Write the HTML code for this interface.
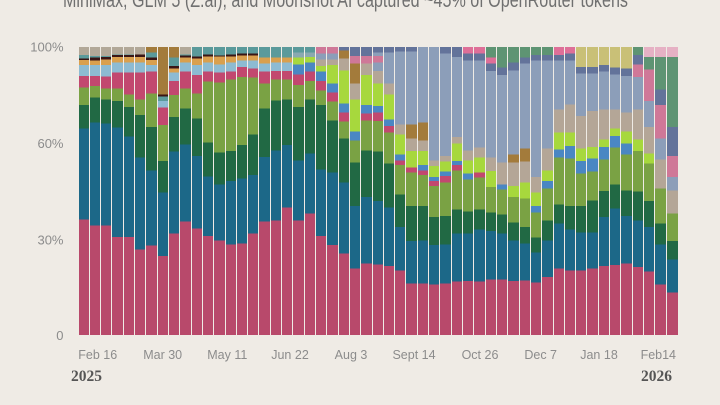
<!DOCTYPE html>
<html><head><meta charset="utf-8">
<style>
html,body{margin:0;padding:0;}
body{width:720px;height:405px;background:#efebe5;position:relative;overflow:hidden;font-family:"Liberation Sans",sans-serif;}
#plot{position:absolute;left:0;top:46.7px;width:720px;height:288px;}
#plot div{position:absolute;top:0;height:288px;}
svg{position:absolute;left:0;top:0;}
</style></head><body>
<div id="plot">
<div style="left:79px;width:10px;background:linear-gradient(#b2a898 8px,#5b9a9b 0 11.3px,#3a1515 0 13px,#d9a04e 0 18px,#8dbbd2 0 29px,#c2486f 0 40.7px,#7aa244 0 58px,#216944 0 81.3px,#1c6888 0 172.3px,#b8496b 0)"></div>
<div style="left:90px;width:10px;background:linear-gradient(#b2a898 9px,#5b9a9b 0 10.7px,#3a1515 0 13.3px,#d9a04e 0 18px,#8dbbd2 0 29px,#c2486f 0 39px,#7aa244 0 50.7px,#216944 0 75.7px,#1c6888 0 178.3px,#b8496b 0)"></div>
<div style="left:101px;width:10px;background:linear-gradient(#b2a898 9px,#5b9a9b 0 10px,#3a1515 0 12.7px,#d9a04e 0 18px,#8dbbd2 0 29.7px,#c2486f 0 41.3px,#7aa244 0 52.3px,#216944 0 76.3px,#1c6888 0 178.3px,#b8496b 0)"></div>
<div style="left:112px;width:11px;background:linear-gradient(#b2a898 7.3px,#5b9a9b 0 8px,#3a1515 0 10px,#d9a04e 0 15.7px,#8dbbd2 0 25.7px,#c2486f 0 41.3px,#7aa244 0 54px,#216944 0 80.7px,#1c6888 0 190px,#b8496b 0)"></div>
<div style="left:124px;width:10px;background:linear-gradient(#b2a898 7.3px,#5b9a9b 0 8px,#3a1515 0 10px,#d9a04e 0 15.7px,#8dbbd2 0 25.7px,#c2486f 0 47.3px,#7aa244 0 60px,#216944 0 89.7px,#1c6888 0 190px,#b8496b 0)"></div>
<div style="left:135px;width:10px;background:linear-gradient(#b2a898 7.3px,#3a1515 0 10px,#d9a04e 0 15.7px,#8dbbd2 0 25.7px,#c2486f 0 52.3px,#7aa244 0 68px,#216944 0 110.7px,#1c6888 0 202.3px,#b8496b 0)"></div>
<div style="left:146px;width:11px;background:linear-gradient(#a37b3b 5.7px,#5b9a9b 0 10.7px,#3a1515 0 13px,#d9a04e 0 18px,#8dbbd2 0 24.7px,#c2486f 0 46.7px,#7aa244 0 80px,#216944 0 123.3px,#1c6888 0 198.3px,#b8496b 0)"></div>
<div style="left:158px;width:10px;background:linear-gradient(#a37b3b 47.3px,#3a1515 0 49.7px,#5b9a9b 0 54px,#8dbbd2 0 60.7px,#c2486f 0 78px,#7aa244 0 114px,#216944 0 145.7px,#1c6888 0 209px,#b8496b 0)"></div>
<div style="left:169px;width:10px;background:linear-gradient(#a37b3b 10.7px,#5b9a9b 0 19px,#3a1515 0 21.3px,#d9a04e 0 25.7px,#8dbbd2 0 34px,#c2486f 0 48px,#7aa244 0 70px,#216944 0 104.7px,#1c6888 0 186.7px,#b8496b 0)"></div>
<div style="left:180px;width:11px;background:linear-gradient(#b2a898 7.3px,#5b9a9b 0 8.3px,#3a1515 0 10.7px,#d9a04e 0 15.7px,#8dbbd2 0 24.7px,#c2486f 0 41.3px,#7aa244 0 61.3px,#216944 0 97.3px,#1c6888 0 174.7px,#b8496b 0)"></div>
<div style="left:192px;width:10px;background:linear-gradient(#5b9a9b 9.3px,#3a1515 0 11.3px,#d9a04e 0 18px,#8dbbd2 0 28px,#c2486f 0 46.7px,#7aa244 0 71.3px,#216944 0 109px,#1c6888 0 181.3px,#b8496b 0)"></div>
<div style="left:203px;width:10px;background:linear-gradient(#5b9a9b 7.3px,#3a1515 0 9.3px,#d9a04e 0 15.7px,#8dbbd2 0 24.7px,#c2486f 0 34.7px,#7aa244 0 95.7px,#216944 0 129.7px,#1c6888 0 189px,#b8496b 0)"></div>
<div style="left:214px;width:11px;background:linear-gradient(#5b9a9b 8.3px,#3a1515 0 9.3px,#d9a04e 0 17.3px,#8dbbd2 0 25.7px,#c2486f 0 35.7px,#7aa244 0 105.7px,#216944 0 137.3px,#1c6888 0 193.3px,#b8496b 0)"></div>
<div style="left:226px;width:10px;background:linear-gradient(#5b9a9b 7.3px,#3a1515 0 9.3px,#d9a04e 0 15.7px,#8dbbd2 0 24.7px,#c2486f 0 32.3px,#7aa244 0 104px,#216944 0 134px,#1c6888 0 197.3px,#b8496b 0)"></div>
<div style="left:237px;width:10px;background:linear-gradient(#5b9a9b 6.7px,#3a1515 0 8.3px,#d9a04e 0 13.3px,#8dbbd2 0 20px,#c2486f 0 30px,#7aa244 0 98px,#216944 0 131.3px,#1c6888 0 196.7px,#b8496b 0)"></div>
<div style="left:248px;width:10px;background:linear-gradient(#5b9a9b 6.7px,#3a1515 0 8.3px,#d9a04e 0 13.3px,#8dbbd2 0 21.3px,#c2486f 0 30.7px,#7aa244 0 87.3px,#216944 0 128px,#1c6888 0 186.7px,#b8496b 0)"></div>
<div style="left:259px;width:11px;background:linear-gradient(#5b9a9b 10.7px,#d9a04e 0 16.7px,#8dbbd2 0 24.7px,#c2486f 0 36.7px,#7aa244 0 61.3px,#216944 0 110px,#1c6888 0 174.7px,#b8496b 0)"></div>
<div style="left:271px;width:10px;background:linear-gradient(#5b9a9b 10.7px,#d9a04e 0 15.7px,#8dbbd2 0 24px,#c2486f 0 32.3px,#7aa244 0 53.3px,#216944 0 103.3px,#1c6888 0 173.3px,#b8496b 0)"></div>
<div style="left:282px;width:10px;background:linear-gradient(#5b9a9b 10.7px,#d9a04e 0 15.7px,#8dbbd2 0 24px,#c2486f 0 32.3px,#7aa244 0 52.3px,#216944 0 98px,#1c6888 0 160.7px,#b8496b 0)"></div>
<div style="left:293px;width:11px;background:linear-gradient(#5b9a9b 5.7px,#8aa9b0 0 10.7px,#a7d83d 0 17.3px,#4a87c3 0 27.3px,#c2486f 0 38px,#7aa244 0 60px,#216944 0 113.3px,#1c6888 0 173.3px,#b8496b 0)"></div>
<div style="left:305px;width:10px;background:linear-gradient(#5b9a9b 5.7px,#8aa9b0 0 10px,#a7d83d 0 15.7px,#4a87c3 0 24.7px,#c2486f 0 34px,#7aa244 0 52.3px,#216944 0 106.7px,#1c6888 0 166.7px,#b8496b 0)"></div>
<div style="left:316px;width:10px;background:linear-gradient(#cf7898 6.7px,#8c9eb9 0 12.3px,#b4a697 0 19px,#a7d83d 0 24.7px,#4a87c3 0 34px,#c2486f 0 43.3px,#7aa244 0 58px,#216944 0 122.3px,#1c6888 0 189px,#b8496b 0)"></div>
<div style="left:327px;width:11px;background:linear-gradient(#cf7898 6.7px,#8c9eb9 0 12.3px,#b4a697 0 18px,#a7d83d 0 36.7px,#4a87c3 0 45.7px,#c2486f 0 54.7px,#7aa244 0 73.3px,#216944 0 125.7px,#1c6888 0 198px,#b8496b 0)"></div>
<div style="left:339px;width:10px;background:linear-gradient(#63739a 3.3px,#a37b3b 0 11.3px,#b4a697 0 23.3px,#a7d83d 0 56.7px,#4a87c3 0 65.7px,#c2486f 0 74.7px,#7aa244 0 91.3px,#216944 0 135.7px,#1c6888 0 206.7px,#b8496b 0)"></div>
<div style="left:350px;width:10px;background:linear-gradient(#63739a 9px,#cf7898 0 16.7px,#a37b3b 0 36.7px,#b4a697 0 52.3px,#a7d83d 0 84.7px,#4a87c3 0 93.3px,#7aa244 0 115.7px,#216944 0 159px,#1c6888 0 221.3px,#b8496b 0)"></div>
<div style="left:361px;width:11px;background:linear-gradient(#63739a 9px,#cf7898 0 16.7px,#b4a697 0 28px,#a7d83d 0 58px,#4a87c3 0 66.7px,#c2486f 0 73.3px,#7aa244 0 103.3px,#216944 0 150px,#1c6888 0 216.3px,#b8496b 0)"></div>
<div style="left:373px;width:10px;background:linear-gradient(#63739a 5.7px,#8c9eb9 0 9px,#cf7898 0 15.7px,#8c9eb9 0 24px,#b4a697 0 36.7px,#a7d83d 0 59px,#4a87c3 0 65.7px,#c2486f 0 74px,#7aa244 0 104.7px,#216944 0 154px,#1c6888 0 217.3px,#b8496b 0)"></div>
<div style="left:384px;width:10px;background:linear-gradient(#63739a 5.7px,#8c9eb9 0 36.7px,#b4a697 0 47.3px,#a7d83d 0 72.3px,#4a87c3 0 79px,#c2486f 0 85.7px,#7aa244 0 116.7px,#216944 0 160.7px,#1c6888 0 219px,#b8496b 0)"></div>
<div style="left:395px;width:10px;background:linear-gradient(#63739a 4.7px,#8c9eb9 0 77.3px,#b4a697 0 87.3px,#a7d83d 0 107.3px,#4a87c3 0 113.3px,#c2486f 0 118px,#7aa244 0 147.3px,#216944 0 180px,#1c6888 0 223.3px,#b8496b 0)"></div>
<div style="left:406px;width:11px;background:linear-gradient(#63739a 4.7px,#8c9eb9 0 77.3px,#a37b3b 0 91.3px,#b4a697 0 104px,#a7d83d 0 120.7px,#c2486f 0 125.7px,#7aa244 0 159px,#216944 0 194px,#1c6888 0 236.7px,#b8496b 0)"></div>
<div style="left:418px;width:10px;background:linear-gradient(#8c9eb9 75.7px,#a37b3b 0 93.3px,#b4a697 0 104px,#a7d83d 0 118px,#4a87c3 0 123.3px,#c2486f 0 128px,#7aa244 0 159px,#216944 0 193.3px,#1c6888 0 236.7px,#b8496b 0)"></div>
<div style="left:429px;width:10px;background:linear-gradient(#8c9eb9 113.3px,#b4a697 0 119px,#a7d83d 0 130px,#4a87c3 0 134px,#c2486f 0 139px,#7aa244 0 170px,#216944 0 198px,#1c6888 0 237.3px,#b8496b 0)"></div>
<div style="left:440px;width:11px;background:linear-gradient(#63739a 6.7px,#8c9eb9 0 109px,#b4a697 0 114.7px,#a7d83d 0 124.7px,#4a87c3 0 129px,#c2486f 0 135.7px,#7aa244 0 169px,#216944 0 197.3px,#1c6888 0 236.7px,#b8496b 0)"></div>
<div style="left:452px;width:10px;background:linear-gradient(#63739a 10px,#8c9eb9 0 90px,#b4a697 0 96.7px,#a7d83d 0 114px,#4a87c3 0 118px,#c2486f 0 123.3px,#7aa244 0 162.3px,#216944 0 186.7px,#1c6888 0 234.7px,#b8496b 0)"></div>
<div style="left:463px;width:10px;background:linear-gradient(#de6f98 6.7px,#63739a 0 13.3px,#8c9eb9 0 103.3px,#b4a697 0 113.3px,#a7d83d 0 126.7px,#4a87c3 0 132.3px,#7aa244 0 164.7px,#216944 0 186.7px,#1c6888 0 234px,#b8496b 0)"></div>
<div style="left:474px;width:11px;background:linear-gradient(#de6f98 6.7px,#63739a 0 13.3px,#8c9eb9 0 100.7px,#b4a697 0 110.7px,#a7d83d 0 125.7px,#c2486f 0 130.7px,#7aa244 0 162.3px,#216944 0 182.3px,#1c6888 0 234.7px,#b8496b 0)"></div>
<div style="left:486px;width:10px;background:linear-gradient(#5e9473 10.7px,#de6f98 0 16.7px,#63739a 0 24px,#8c9eb9 0 110.7px,#b4a697 0 124px,#a7d83d 0 140px,#7aa244 0 165.7px,#216944 0 184px,#1c6888 0 232.3px,#b8496b 0)"></div>
<div style="left:497px;width:10px;background:linear-gradient(#5e9473 20.7px,#63739a 0 28px,#8c9eb9 0 115.7px,#b4a697 0 137.3px,#4a87c3 0 142.3px,#7aa244 0 167.3px,#216944 0 186.7px,#1c6888 0 232.3px,#b8496b 0)"></div>
<div style="left:508px;width:11px;background:linear-gradient(#5e9473 15.7px,#63739a 0 23.3px,#8c9eb9 0 107.3px,#a37b3b 0 115.7px,#b4a697 0 139px,#a7d83d 0 150px,#7aa244 0 175.7px,#216944 0 193.3px,#1c6888 0 234px,#b8496b 0)"></div>
<div style="left:520px;width:10px;background:linear-gradient(#5e9473 10.7px,#63739a 0 16.7px,#8c9eb9 0 101.3px,#a37b3b 0 114.7px,#b4a697 0 135.7px,#a7d83d 0 151.3px,#7aa244 0 180px,#216944 0 196.7px,#1c6888 0 233.3px,#b8496b 0)"></div>
<div style="left:531px;width:10px;background:linear-gradient(#5e9473 8px,#63739a 0 13.3px,#8c9eb9 0 130px,#b4a697 0 145.7px,#a7d83d 0 159px,#4a87c3 0 165.7px,#7aa244 0 190.7px,#216944 0 205.7px,#1c6888 0 235.7px,#b8496b 0)"></div>
<div style="left:542px;width:11px;background:linear-gradient(#5e9473 8px,#63739a 0 13.3px,#8c9eb9 0 101.3px,#b4a697 0 123.3px,#a7d83d 0 134px,#4a87c3 0 141.3px,#7aa244 0 173.3px,#216944 0 193.3px,#1c6888 0 230px,#b8496b 0)"></div>
<div style="left:554px;width:10px;background:linear-gradient(#de6f98 8px,#63739a 0 13.3px,#8c9eb9 0 62.3px,#b4a697 0 85.7px,#a7d83d 0 102.3px,#4a87c3 0 110.7px,#7aa244 0 157.3px,#216944 0 176.7px,#1c6888 0 221.3px,#b8496b 0)"></div>
<div style="left:565px;width:10px;background:linear-gradient(#de6f98 6.7px,#63739a 0 13.3px,#8c9eb9 0 57.3px,#b4a697 0 85.7px,#a7d83d 0 99px,#4a87c3 0 111.3px,#7aa244 0 159px,#216944 0 182.3px,#1c6888 0 223.3px,#b8496b 0)"></div>
<div style="left:576px;width:10px;background:linear-gradient(#c9c077 20px,#63739a 0 26.7px,#8c9eb9 0 69px,#b4a697 0 101.3px,#a7d83d 0 114px,#4a87c3 0 126.7px,#7aa244 0 159px,#216944 0 185.7px,#1c6888 0 223.3px,#b8496b 0)"></div>
<div style="left:587px;width:11px;background:linear-gradient(#c9c077 20px,#63739a 0 26.7px,#8c9eb9 0 64px,#b4a697 0 100px,#a7d83d 0 111.3px,#4a87c3 0 124.7px,#7aa244 0 153.3px,#216944 0 185.7px,#1c6888 0 221.3px,#b8496b 0)"></div>
<div style="left:599px;width:10px;background:linear-gradient(#c9c077 18px,#63739a 0 24.7px,#8c9eb9 0 62.3px,#b4a697 0 92.3px,#a7d83d 0 100px,#4a87c3 0 112.3px,#7aa244 0 144px,#216944 0 170px,#1c6888 0 219px,#b8496b 0)"></div>
<div style="left:610px;width:10px;background:linear-gradient(#c9c077 20.7px,#63739a 0 27.3px,#8c9eb9 0 62.3px,#b4a697 0 81.3px,#a7d83d 0 89px,#4a87c3 0 100.7px,#7aa244 0 137.3px,#216944 0 161.3px,#1c6888 0 218px,#b8496b 0)"></div>
<div style="left:621px;width:11px;background:linear-gradient(#c9c077 21.3px,#63739a 0 29px,#8c9eb9 0 65.7px,#b4a697 0 84.7px,#a7d83d 0 96.7px,#4a87c3 0 107.3px,#7aa244 0 143.3px,#216944 0 169px,#1c6888 0 216.7px,#b8496b 0)"></div>
<div style="left:633px;width:10px;background:linear-gradient(#5e9473 8px,#63739a 0 17.3px,#cf7898 0 30px,#8c9eb9 0 62.3px,#b4a697 0 92.3px,#a7d83d 0 104px,#7aa244 0 144.7px,#216944 0 173.3px,#1c6888 0 220px,#b8496b 0)"></div>
<div style="left:644px;width:10px;background:linear-gradient(#e6b1c4 10px,#5e9473 0 22.3px,#cf7898 0 54px,#8c9eb9 0 80px,#b4a697 0 106.7px,#a7d83d 0 116.7px,#7aa244 0 154px,#216944 0 180px,#1c6888 0 224.7px,#b8496b 0)"></div>
<div style="left:655px;width:11px;background:linear-gradient(#e6b1c4 10px,#5e9473 0 42.3px,#63739a 0 58px,#cf7898 0 91.3px,#8c9eb9 0 112.3px,#b4a697 0 141.3px,#7aa244 0 176.7px,#216944 0 197.3px,#1c6888 0 237.3px,#b8496b 0)"></div>
<div style="left:667px;width:11px;background:linear-gradient(#e6b1c4 10px,#5e9473 0 80px,#63739a 0 109px,#cf7898 0 130px,#8c9eb9 0 143.3px,#b4a697 0 166.7px,#7aa244 0 194px,#216944 0 212.3px,#1c6888 0 245.7px,#b8496b 0)"></div>
</div>
<svg width="720" height="405" viewBox="0 0 720 405">
<text x="63" y="7" font-family="Liberation Sans, sans-serif" font-size="21" fill="#707070" textLength="565" lengthAdjust="spacingAndGlyphs">MiniMax, GLM 5 (Z.ai), and Moonshot AI captured ~45% of OpenRouter tokens</text>
<g font-family="Liberation Sans, sans-serif" font-size="13" fill="#8c8c8c" text-anchor="end">
<text x="63.5" y="51.5">100%</text>
<text x="63.5" y="148">60%</text>
<text x="63.5" y="244.5">30%</text>
<text x="63.5" y="340">0</text>
</g>
<g font-family="Liberation Sans, sans-serif" font-size="12.5" fill="#8c8c8c" text-anchor="middle">
<text x="97.7" y="359">Feb 16</text>
<text x="162.7" y="359">Mar 30</text>
<text x="227.3" y="359">May 11</text>
<text x="290" y="359">Jun 22</text>
<text x="351" y="359">Aug 3</text>
<text x="414" y="359">Sept 14</text>
<text x="480" y="359">Oct 26</text>
<text x="540.7" y="359">Dec 7</text>
<text x="599" y="359">Jan 18</text>
<text x="658.3" y="359">Feb14</text>
</g>
<g font-family="Liberation Serif, serif" font-size="15.5" font-weight="bold" fill="#555555">
<text x="71" y="381">2025</text>
<text x="641" y="381">2026</text>
</g>
</svg>
</body></html>
